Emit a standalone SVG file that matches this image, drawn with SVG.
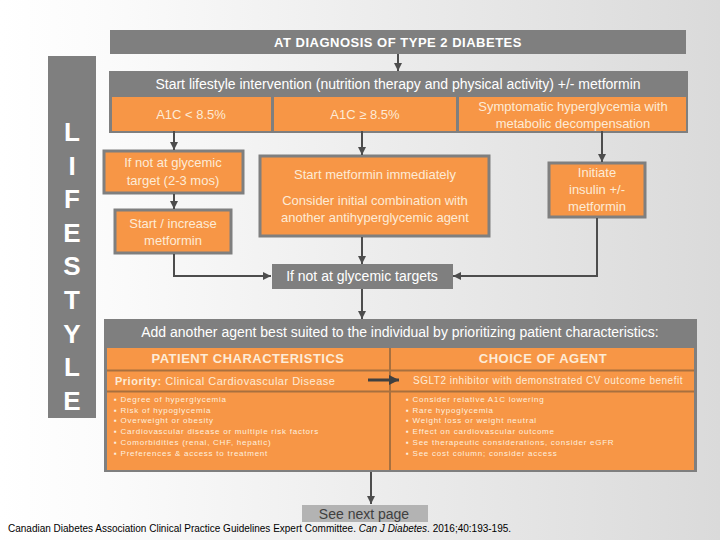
<svg xmlns="http://www.w3.org/2000/svg" width="720" height="540" viewBox="0 0 720 540">
<defs>
<linearGradient id="bg" x1="0" y1="0" x2="1" y2="0">
<stop offset="0" stop-color="#ffffff"/>
<stop offset="0.15" stop-color="#fbfbfb"/>
<stop offset="1" stop-color="#dadada"/>
</linearGradient>
<marker id="ah" markerUnits="userSpaceOnUse" markerWidth="10" markerHeight="10" refX="8" refY="4" orient="auto">
<path d="M0,0 L8,4 L0,8 Z" fill="#4d4d4d"/>
</marker>
<marker id="ah2" markerUnits="userSpaceOnUse" markerWidth="12" markerHeight="12" refX="10" refY="5" orient="auto">
<path d="M0,0 L10,5 L0,10 Z" fill="#404040"/>
</marker>
</defs>
<style>
text{font-family:"Liberation Sans",Arial,sans-serif}
.gray{fill:#7f7f7f}
.org{fill:#f79646}
.obox{fill:#f79646;stroke:#7f7f7f;stroke-width:3}
.w{fill:#ffffff}
.c{fill:#fdebd6}
.t13{font-size:13px}
.t14{font-size:14px}
.b{font-weight:bold}
.mid{text-anchor:middle}
.ltr{font-size:26px;font-weight:bold;fill:#ffffff;text-anchor:middle}
.sm{font-size:8px;fill:#fdefdf;letter-spacing:0.75px}
.conn{fill:none;stroke:#4d4d4d;stroke-width:2}
.div{stroke:#a8703f;stroke-width:2}
</style>
<rect x="0" y="0" width="720" height="540" fill="url(#bg)"/>

<g id="title">
<rect x="110" y="30" width="576" height="24" class="gray"/>
<text x="398" y="47" class="w t13 b mid" style="letter-spacing:0.5px">AT DIAGNOSIS OF TYPE 2 DIABETES</text>
</g>

<g id="lifestyle">
<rect x="48" y="56" width="48" height="362" class="gray"/>
<text x="72" y="141" class="ltr">L</text>
<text x="72" y="175" class="ltr">I</text>
<text x="72" y="208" class="ltr">F</text>
<text x="72" y="242" class="ltr">E</text>
<text x="72" y="275" class="ltr">S</text>
<text x="72" y="309" class="ltr">T</text>
<text x="72" y="343" class="ltr">Y</text>
<text x="72" y="376" class="ltr">L</text>
<text x="72" y="410" class="ltr">E</text>
</g>

<g id="start-lifestyle">
<rect x="109" y="71" width="579" height="62" class="gray"/>
<text x="398" y="89" class="w t14 mid">Start lifestyle intervention (nutrition therapy and physical activity) +/- metformin</text>
<rect x="112" y="97" width="159" height="34" class="org"/>
<rect x="274" y="97" width="182" height="34" class="org"/>
<rect x="459" y="97" width="227" height="34" class="org"/>
<text x="191" y="119" class="c t13 mid">A1C &lt; 8.5%</text>
<text x="365" y="119" class="c t13 mid">A1C ≥ 8.5%</text>
<text x="573" y="111" class="c t13 mid">Symptomatic hyperglycemia with</text>
<text x="573" y="128" class="c t13 mid">metabolic decompensation</text>
</g>

<g id="not-target-23">
<rect x="104" y="151" width="139" height="42" class="obox"/>
<text x="173" y="167" class="c t13 mid">If not at glycemic</text>
<text x="173" y="185" class="c t13 mid">target (2-3 mos)</text>
</g>

<g id="start-increase">
<rect x="115" y="210" width="116" height="43" class="obox"/>
<text x="173" y="228" class="c t13 mid">Start / increase</text>
<text x="173" y="245" class="c t13 mid">metformin</text>
</g>

<g id="start-metformin">
<rect x="260" y="156" width="229" height="80" class="obox"/>
<text x="375" y="179" class="c t13 mid">Start metformin immediately</text>
<text x="375" y="205" class="c t13 mid">Consider initial combination with</text>
<text x="375" y="222" class="c t13 mid">another antihyperglycemic agent</text>
</g>

<g id="insulin">
<rect x="549" y="163" width="96" height="54" class="obox"/>
<text x="597" y="177" class="c t13 mid">Initiate</text>
<text x="597" y="194" class="c t13 mid">insulin +/-</text>
<text x="597" y="211" class="c t13 mid">metformin</text>
</g>

<g id="not-targets">
<rect x="272" y="264" width="181" height="25" class="gray"/>
<text x="362" y="281" class="w t14 mid">If not at glycemic targets</text>
</g>

<g id="add-agent">
<rect x="104" y="319" width="593" height="153" class="gray"/>
<text x="400" y="337" class="w t14 mid">Add another agent best suited to the individual by prioritizing patient characteristics:</text>
<rect x="107" y="348" width="587" height="122" class="org"/>
<line x1="107" y1="370.5" x2="694" y2="370.5" class="div"/>
<line x1="107" y1="391.5" x2="694" y2="391.5" class="div"/>
<line x1="390" y1="348" x2="390" y2="470" class="div"/>
<text x="248" y="363" class="c t13 b mid" style="letter-spacing:0.5px">PATIENT CHARACTERISTICS</text>
<text x="543" y="363" class="c t13 b mid" style="letter-spacing:0.5px">CHOICE OF AGENT</text>
<text x="115" y="385" class="c" style="font-size:11px;letter-spacing:0.5px"><tspan font-weight="bold">Priority:</tspan> Clinical Cardiovascular Disease</text>
<text x="548" y="384" class="c mid" style="font-size:10px;letter-spacing:0.5px">SGLT2 inhibitor with demonstrated CV outcome benefit</text>
<g class="sm">
<text x="114" y="402">▪ Degree of hyperglycemia</text>
<text x="114" y="413">▪ Risk of hypoglycemia</text>
<text x="114" y="423">▪ Overweight or obesity</text>
<text x="114" y="434">▪ Cardiovascular disease or multiple risk factors</text>
<text x="114" y="445">▪ Comorbidities (renal, CHF, hepatic)</text>
<text x="114" y="456">▪ Preferences &amp; access to treatment</text>
<text x="406" y="402">▪ Consider relative A1C lowering</text>
<text x="406" y="413">▪ Rare hypoglycemia</text>
<text x="406" y="423">▪ Weight loss or weight neutral</text>
<text x="406" y="434">▪ Effect on cardiovascular outcome</text>
<text x="406" y="445">▪ See therapeutic considerations, consider eGFR</text>
<text x="406" y="456">▪ See cost column; consider access</text>
</g>
</g>

<g id="next-page">
<rect x="302" y="505" width="126" height="17" fill="#b3b3b3"/>
<text x="364" y="519" class="t14 mid" fill="#404040">See next page</text>
</g>

<g id="citation">
<text x="8" y="532" style="font-size:10px" fill="#000000">Canadian Diabetes Association Clinical Practice Guidelines Expert Committee. <tspan font-style="italic">Can J Diabetes</tspan>. 2016;40:193-195.</text>
</g>

<g id="connectors">
<line x1="398" y1="54" x2="398" y2="71" class="conn" marker-end="url(#ah)"/>
<line x1="174" y1="131" x2="174" y2="150" class="conn" marker-end="url(#ah)"/>
<line x1="362" y1="131" x2="362" y2="155" class="conn" marker-end="url(#ah)"/>
<line x1="602" y1="131" x2="602" y2="162" class="conn" marker-end="url(#ah)"/>
<line x1="174" y1="194" x2="174" y2="209" class="conn" marker-end="url(#ah)"/>
<polyline points="174,254 174,276 271,276" class="conn" marker-end="url(#ah)"/>
<line x1="362" y1="237" x2="362" y2="264" class="conn" marker-end="url(#ah)"/>
<polyline points="597,218 597,276 453,276" class="conn" marker-end="url(#ah)"/>
<line x1="362" y1="289" x2="362" y2="319" class="conn" marker-end="url(#ah)"/>
<line x1="368" y1="380" x2="399" y2="380" stroke="#404040" stroke-width="3" marker-end="url(#ah2)"/>
<line x1="371" y1="472" x2="371" y2="504" class="conn" marker-end="url(#ah)"/>
</g>
</svg>
